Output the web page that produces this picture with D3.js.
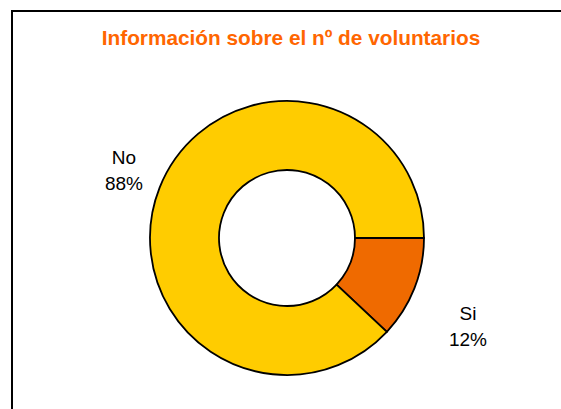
<!DOCTYPE html>
<html>
<head>
<meta charset="utf-8">
<script src="https://cdn.jsdelivr.net/npm/d3@7"></script>
<style>
  body { margin: 0; background: #fff; }
  svg { display: block; font-family: Arial, "Liberation Sans", sans-serif; }
</style>
</head>
<body>
<svg id="chart" width="561" height="409"></svg>
<script>
// chart data
const title = 'Información sobre el nº de voluntarios';
const categories = ['Si', 'No'];
const values = [12, 88];
const colors = ['#EF6A00', '#FFCC00'];

const svg = d3.select('#chart');

// outer frame (runs off the right and bottom edges)
svg.append('rect')
    .attr('x', 12)
    .attr('y', 11)
    .attr('width', 600)
    .attr('height', 450)
    .attr('fill', 'none')
    .attr('stroke', '#000')
    .attr('stroke-width', 2);

svg.append('text')
    .attr('x', 291)
    .attr('y', 45)
    .attr('text-anchor', 'middle')
    .attr('font-size', 20.8)
    .attr('font-weight', 'bold')
    .attr('fill', '#FF6600')
    .text(title);

const cx = 287, cy = 238;
const outerR = 137, innerR = 68;

const data = categories.map((c, i) => ({ name: c, value: values[i], color: colors[i] }));

// Si starts at 3 o'clock and runs clockwise
const pie = d3.pie()
    .sort(null)
    .value(d => d.value)
    .startAngle(Math.PI / 2)
    .endAngle(Math.PI / 2 + 2 * Math.PI);

const arc = d3.arc().innerRadius(innerR).outerRadius(outerR);

const g = svg.append('g').attr('transform', `translate(${cx},${cy})`);

g.selectAll('path')
    .data(pie(data))
    .enter()
    .append('path')
    .attr('d', arc)
    .attr('fill', d => d.data.color)
    .attr('stroke', '#000')
    .attr('stroke-width', 1.8)
    .attr('stroke-linejoin', 'round');

// slice labels
const labelPos = { Si: [468, 320], No: [124, 164] };
const labels = svg.selectAll('.slice-label')
    .data(data)
    .enter()
    .append('text')
    .attr('class', 'slice-label')
    .attr('text-anchor', 'middle')
    .attr('font-size', 19)
    .attr('fill', '#000');

labels.append('tspan')
    .attr('x', d => labelPos[d.name][0])
    .attr('y', d => labelPos[d.name][1])
    .text(d => d.name);

labels.append('tspan')
    .attr('x', d => labelPos[d.name][0])
    .attr('y', d => labelPos[d.name][1] + 26)
    .text(d => d.value + '%');
</script>
</body>
</html>
